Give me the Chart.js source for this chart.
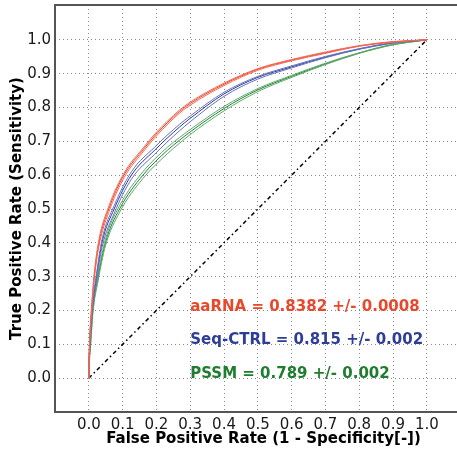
<!DOCTYPE html>
<html><head><meta charset="utf-8">
<script src="https://cdn.jsdelivr.net/npm/chart.js@4/dist/chart.umd.min.js"></script>
<style>html,body{margin:0;padding:0;background:#fff;overflow:hidden}</style>
</head><body>
<canvas id="c" width="472" height="456"></canvas>
<script>
// ---- data ----
const tickValues = [0.0, 0.1, 0.2, 0.3, 0.4, 0.5, 0.6, 0.7, 0.8, 0.9, 1.0];

const aaRnaFpr  = [0, 0.001, 0.003, 0.008, 0.016, 0.03, 0.059, 0.104, 0.163, 0.2, 0.268, 0.3, 0.4, 0.5, 0.6, 0.7, 0.8, 0.9, 1.0];
const aaRnaTprA = [0, 0.06, 0.12, 0.20, 0.30, 0.40, 0.50, 0.600, 0.678, 0.722, 0.788, 0.812, 0.869, 0.913, 0.940, 0.962, 0.982, 0.994, 1.0];
const aaRnaTprB = [0, 0.05, 0.11, 0.19, 0.29, 0.39, 0.49, 0.592, 0.672, 0.716, 0.783, 0.807, 0.865, 0.910, 0.938, 0.960, 0.981, 0.993, 1.0];
const aaRnaTprC = [0, 0.07, 0.13, 0.21, 0.31, 0.41, 0.508, 0.606, 0.683, 0.727, 0.792, 0.816, 0.872, 0.915, 0.942, 0.964, 0.983, 0.995, 1.0];

const seqFpr  = [0, 0.001, 0.004, 0.010, 0.023, 0.039, 0.075, 0.126, 0.195, 0.268, 0.3, 0.4, 0.5, 0.6, 0.7, 0.8, 0.9, 1.0];
const seqTprA = [0, 0.05, 0.11, 0.20, 0.30, 0.40, 0.50, 0.60, 0.674, 0.742, 0.768, 0.840, 0.889, 0.920, 0.949, 0.973, 0.991, 1.0];
const seqTprB = [0, 0.04, 0.10, 0.19, 0.288, 0.386, 0.487, 0.588, 0.662, 0.731, 0.758, 0.833, 0.884, 0.917, 0.947, 0.972, 0.990, 1.0];
const seqTprC = [0, 0.06, 0.12, 0.21, 0.31, 0.41, 0.51, 0.61, 0.683, 0.750, 0.775, 0.845, 0.892, 0.923, 0.951, 0.974, 0.992, 1.0];

const pssmFpr  = [0, 0.001, 0.005, 0.012, 0.028, 0.049, 0.091, 0.160, 0.233, 0.268, 0.3, 0.4, 0.5, 0.6, 0.7, 0.8, 0.9, 1.0];
const pssmTprA = [0, 0.04, 0.10, 0.20, 0.30, 0.40, 0.50, 0.60, 0.674, 0.703, 0.728, 0.797, 0.852, 0.892, 0.929, 0.961, 0.986, 1.0];
const pssmTprB = [0, 0.03, 0.09, 0.19, 0.29, 0.39, 0.49, 0.59, 0.664, 0.694, 0.720, 0.790, 0.847, 0.889, 0.927, 0.960, 0.985, 1.0];
const pssmTprC = [0, 0.05, 0.11, 0.21, 0.31, 0.41, 0.51, 0.61, 0.683, 0.711, 0.735, 0.803, 0.856, 0.895, 0.931, 0.962, 0.987, 1.0];

const chanceFpr = [0, 1];
const chanceTpr = [0, 1];

const annotationTexts = ['aaRNA = 0.8382 +/- 0.0008', 'Seq-CTRL = 0.815 +/- 0.002', 'PSSM = 0.789 +/- 0.002'];

// ---- build ----
const RED = '#ee4229', BLUE = '#2d3d9c', GREEN = '#1f8431';
const TXT_RED = '#e8482c', TXT_BLUE = '#2e3d98', TXT_GREEN = '#1e7d2e';
const SPINE = '#555';
const pts = (xs, ys) => xs.map((x, i) => ({x: x, y: ys[i]}));
const line = (xs, ys, color) => ({
  data: pts(xs, ys), borderColor: color, borderWidth: 1, pointRadius: 0,
  cubicInterpolationMode: 'monotone', fill: false
});

const datasets = [
  line(aaRnaFpr, aaRnaTprB, '#f06a52'), line(aaRnaFpr, aaRnaTprC, '#f06a52'), line(aaRnaFpr, aaRnaTprA, RED),
  line(seqFpr, seqTprB, '#6672bb'), line(seqFpr, seqTprC, '#6672bb'), line(seqFpr, seqTprA, BLUE),
  line(pssmFpr, pssmTprB, '#5ea86a'), line(pssmFpr, pssmTprC, '#5ea86a'), line(pssmFpr, pssmTprA, GREEN),
  { data: pts(chanceFpr, chanceTpr), borderColor: '#000', borderWidth: 1.5, pointRadius: 0,
    borderDash: [4, 3, 1.5, 3], fill: false }
];

const annotationPlugin = {
  id: 'annot',
  afterDatasetsDraw(chart) {
    const {ctx, scales: {x, y}} = chart;
    const pos = [[0.3, 0.2, TXT_RED], [0.3, 0.1, TXT_BLUE], [0.3, 0.0, TXT_GREEN]];
    ctx.save();
    ctx.font = 'bold 15px "DejaVu Sans"';
    ctx.textBaseline = 'alphabetic';
    ctx.textAlign = 'left';
    annotationTexts.forEach((t, i) => {
      ctx.fillStyle = pos[i][2];
      ctx.fillText(t, x.getPixelForValue(pos[i][0]), y.getPixelForValue(pos[i][1]));
    });
    ctx.restore();
  },
  afterDraw(chart) {
    const {ctx, chartArea: a} = chart;
    const edge = Math.min(a.right, window.innerWidth || a.right);
    ctx.save();
    ctx.strokeStyle = SPINE;
    ctx.lineWidth = 2;
    ctx.lineCap = 'butt';
    const seg = (x1, y1, x2, y2) => { ctx.beginPath(); ctx.moveTo(x1, y1); ctx.lineTo(x2, y2); ctx.stroke(); };
    seg(a.left - 1, a.top, edge, a.top);
    seg(a.left, a.top, a.left, a.bottom);
    seg(a.left - 1, a.bottom, edge, a.bottom);
    ctx.restore();
  }
};

const setTicks = s => { s.ticks = tickValues.map(v => ({value: v})); };
const tickFont = {family: '"DejaVu Sans"', size: 15};
const titleFont = {family: '"DejaVu Sans"', size: 15, weight: 'bold'};

new Chart(document.getElementById('c'), {
  type: 'line',
  data: {datasets},
  options: {
    responsive: false, animation: false, devicePixelRatio: 1,
    layout: {padding: {top: 5, left: 0, right: 0, bottom: 0}},
    plugins: {legend: {display: false}, tooltip: {enabled: false}},
    scales: {
      x: {
        type: 'linear', min: -0.1, max: 1.1336,
        afterBuildTicks: setTicks,
        afterFit: s => { s.height = 44; s.paddingLeft = 0; s.paddingRight = 0; },
        ticks: {callback: v => v.toFixed(1), font: tickFont, color: '#1a1a1a', padding: 4, maxRotation: 0, autoSkip: false},
        grid: {color: '#8a8a8a', lineWidth: 1, drawTicks: false},
        border: {display: false, dash: [1, 3]},
        title: {display: true, text: 'False Positive Rate (1 - Specificity[-])', font: titleFont, color: '#000', padding: {top: 0, bottom: 8}}
      },
      y: {
        type: 'linear', min: -0.1, max: 1.103,
        afterBuildTicks: setTicks,
        afterFit: s => { s.width = 55; s.paddingTop = 0; s.paddingBottom = 0; },
        ticks: {callback: v => v.toFixed(1), font: tickFont, color: '#1a1a1a', padding: 4, autoSkip: false},
        grid: {color: '#8a8a8a', lineWidth: 1, drawTicks: false},
        border: {display: false, dash: [1, 3]},
        title: {display: true, text: 'True Positive Rate (Sensitivity)', font: titleFont, color: '#000', padding: {top: 8, bottom: 0}}
      }
    }
  },
  plugins: [annotationPlugin]
});
</script>
</body></html>
